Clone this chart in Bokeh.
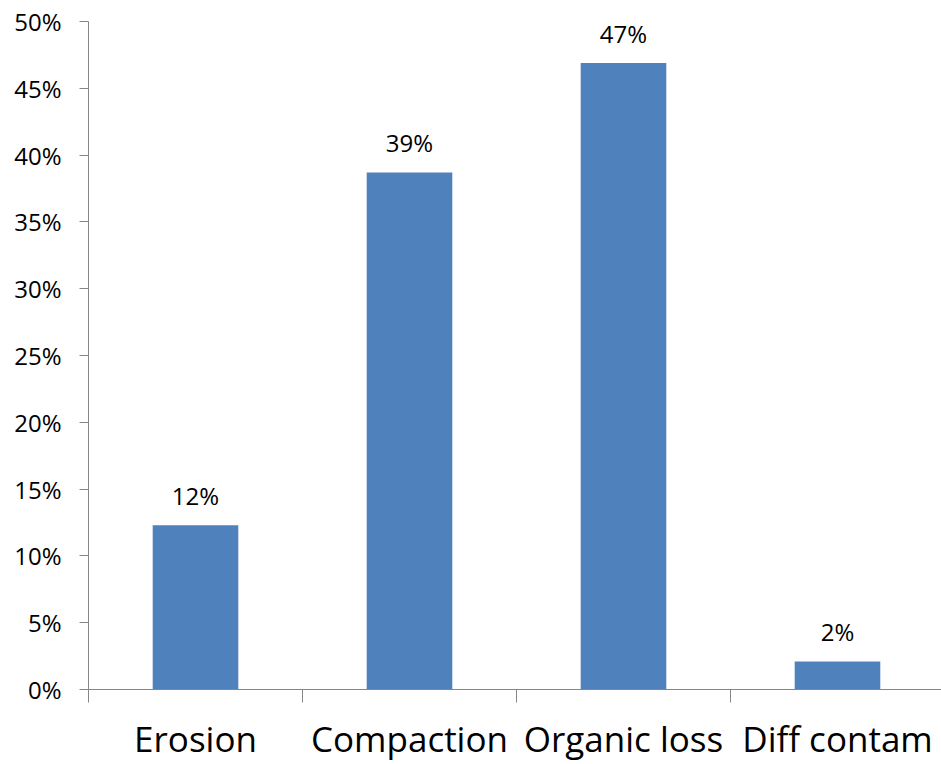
from bokeh.plotting import figure
from bokeh.models import (ColumnDataSource, Range1d, FixedTicker, NumeralTickFormatter,
                          LabelSet)
from bokeh.core.properties import value
from bokeh.embed import file_html
from bokeh.resources import INLINE

categories = ["Erosion", "Compaction", "Organic loss", "Diff contam"]
values = [0.123, 0.387, 0.469, 0.021]
labels = ["12%", "39%", "47%", "2%"]
y_ticks = [0, 0.05, 0.10, 0.15, 0.20, 0.25, 0.30, 0.35, 0.40, 0.45, 0.50]

FONT = "Open Sans"
AXIS_COLOR = "#868686"
BAR_COLOR = "#4F81BD"

centers = [i + 0.5 for i in range(len(categories))]
source = ColumnDataSource(dict(x=centers, top=values, label=labels, cat=categories))

p = figure(width=941, height=764, output_backend="svg", toolbar_location=None,
           x_range=Range1d(0, 3.986), y_range=Range1d(0, 0.5),
           min_border_left=88, min_border_right=0, min_border_top=21, min_border_bottom=75)
p.outline_line_color = None
p.xgrid.visible = False
p.ygrid.visible = False

p.vbar(x="x", top="top", width=0.4, bottom=0, source=source,
       fill_color=BAR_COLOR, line_color=None)

p.add_layout(LabelSet(x="x", y="top", text="label", source=source,
                      text_align="center", text_baseline="alphabetic",
                      y_offset=20, text_font=value(FONT), text_font_size="24px",
                      text_color="#000000"))

# Y axis
ya = p.yaxis[0]
ya.ticker = FixedTicker(ticks=y_ticks)
ya.formatter = NumeralTickFormatter(format="0%")
ya.axis_line_color = AXIS_COLOR
ya.major_tick_line_color = AXIS_COLOR
ya.major_tick_out = 9
ya.major_tick_in = 0
ya.minor_tick_line_color = None
ya.major_label_text_font = FONT
ya.major_label_text_font_size = "24px"
ya.major_label_text_color = "#000000"
ya.major_label_standoff = 18

# X axis
xa = p.xaxis[0]
xa.ticker = FixedTicker(ticks=centers, minor_ticks=list(range(len(categories) + 1)))
xa.major_label_overrides = {c: cat for c, cat in zip(centers, categories)}
xa.axis_line_color = AXIS_COLOR
xa.major_tick_line_color = None
xa.major_tick_out = 0
xa.major_tick_in = 0
xa.minor_tick_line_color = AXIS_COLOR
xa.minor_tick_out = 13
xa.minor_tick_in = 0
xa.major_label_text_font = FONT
xa.major_label_text_font_size = "35px"
xa.major_label_text_color = "#000000"
xa.major_label_standoff = 12

open("out.html", "w").write(file_html(p, INLINE))
